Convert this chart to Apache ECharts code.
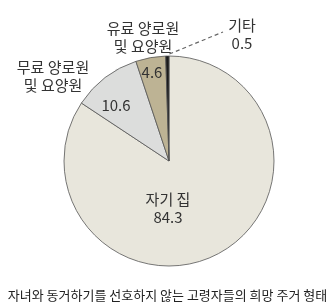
<!DOCTYPE html>
<html><head><meta charset="utf-8">
<script src="https://cdn.jsdelivr.net/npm/echarts@6/dist/echarts.min.js"></script>
<style>html,body{margin:0;padding:0;background:#fff}#c{width:335px;height:307px}</style>
</head><body><div id="c"></div>
<script>
const categories = ['자기 집', '무료 양로원\n및 요양원', '유료 양로원\n및 요양원', '기타'];
const values = [84.3, 10.6, 4.6, 0.5];
const colors = ['#e8e6dc', '#dcdddc', '#bdb394', '#1b1b1b'];
const title = '자녀와 동거하기를 선호하지 않는 고령자들의 희망 주거 형태';

const FONT = '"Noto Sans CJK KR", sans-serif';
// label anchor positions (layout only)
const innerPos = [[168, 208], [116, 105], [152, 72], null];
const outerPos = [null, [53, 76], [143, 37], [242, 34]];

const chart = echarts.init(document.getElementById('c'), null, {renderer: 'canvas'});
const dataA = categories.map((n, i) => ({
  name: n, value: values[i],
  itemStyle: {color: colors[i]},
  label: {show: i < 3, formatter: i === 0 ? '{b}\n{c}' : '{c}'}
}));
const dataB = categories.map((n, i) => ({
  name: n, value: values[i],
  label: {show: i > 0, formatter: i === 3 ? '{b}\n{c}' : '{b}'},
  labelLine: {show: i === 3}
}));
chart.setOption({
  animation: false,
  title: {text: title, left: 'center', top: 284, textStyle: {fontFamily: FONT, fontSize: 13, fontWeight: 'normal', color: '#222'}},
  series: [{
    type: 'pie', center: [169, 161], radius: [0, 105], startAngle: 90, clockwise: true,
    silent: true,
    itemStyle: {borderColor: '#555', borderWidth: 0.8},
    label: {position: 'inside', fontFamily: FONT, fontSize: 15, color: '#333', lineHeight: 18, align: 'center', overflow: 'none'},
    labelLayout: p => { const q = innerPos[p.dataIndex]; return q ? {x: q[0], y: q[1], align: 'center', verticalAlign: 'middle'} : {}; },
    data: dataA
  }, {
    type: 'pie', center: [169, 161], radius: [0, 105], startAngle: 90, clockwise: true,
    silent: true,
    itemStyle: {color: 'transparent', borderWidth: 0},
    label: {position: 'outside', fontFamily: FONT, fontSize: 15, color: '#333', lineHeight: 18, align: 'center', overflow: 'none', edgeDistance: 0, bleedMargin: 0},
    labelLine: {lineStyle: {type: [4, 3], color: '#666', width: 1.2}, length: 10, length2: 10},
    labelLayout: p => {
      const q = outerPos[p.dataIndex];
      if (!q) return {};
      const r = {x: q[0], y: q[1], align: 'center', verticalAlign: 'middle'};
      if (p.dataIndex === 3 && p.labelLinePoints) {
        const s = p.labelLinePoints[0];
        const st = [s[0] + 2, s[1] - 2];
        const e = [q[0] - 19, q[1] - 2];
        r.labelLinePoints = [st, st, e];
      }
      return r;
    },
    data: dataB
  }]
});
</script></body></html>
